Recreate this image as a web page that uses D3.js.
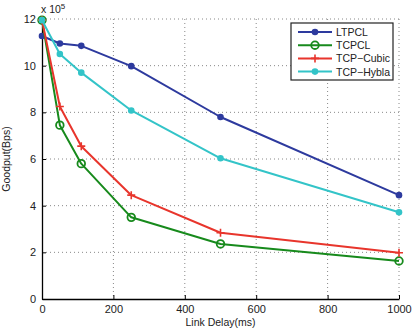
<!DOCTYPE html>
<html>
<head>
<meta charset="utf-8">
<script src="https://cdn.jsdelivr.net/npm/d3@7"></script>
<style>
  body { margin: 0; background: #fff; }
  text { font-family: "Liberation Sans", Arial, sans-serif; fill: #222; }
</style>
</head>
<body>
<div class="chart"></div>
<script>
var delays = [0, 50, 110, 250, 500, 1000];
var ltpcl = [11.27, 10.95, 10.85, 9.98, 7.8, 4.45];
var tcpcl = [11.95, 7.45, 5.8, 3.5, 2.36, 1.63];
var cubic = [11.95, 8.25, 6.55, 4.45, 2.84, 1.98];
var hybla = [11.95, 10.5, 9.7, 8.08, 6.03, 3.72];
var xTicks = [0, 200, 400, 600, 800, 1000];
var yTicks = [0, 2, 4, 6, 8, 10, 12];

var series = [
  { name: "LTPCL", values: ltpcl, color: "#2d3a9e", marker: "dot" },
  { name: "TCPCL", values: tcpcl, color: "#178a1c", marker: "ring" },
  { name: "TCP\u2212Cubic", values: cubic, color: "#e8352c", marker: "plus" },
  { name: "TCP\u2212Hybla", values: hybla, color: "#33c4c8", marker: "dot" }
];

var width = 417, height = 333;
var mLeft = 42, mRight = 399, mTop = 19, mBottom = 299;

var svg = d3.select(".chart").append("svg")
  .attr("width", width).attr("height", height);

var x = d3.scaleLinear().domain([0, 1000]).range([mLeft, mRight]);
var y = d3.scaleLinear().domain([0, 12]).range([mBottom, mTop]);

// dotted grid
svg.append("g").selectAll("line").data(xTicks.slice(1)).enter().append("line")
  .attr("x1", d => x(d)).attr("x2", d => x(d))
  .attr("y1", mTop).attr("y2", mBottom)
  .attr("stroke", "#888").attr("stroke-width", 1).attr("stroke-dasharray", "1,3");
svg.append("g").selectAll("line").data(yTicks.slice(1)).enter().append("line")
  .attr("x1", mLeft).attr("x2", mRight)
  .attr("y1", d => y(d)).attr("y2", d => y(d))
  .attr("stroke", "#888").attr("stroke-width", 1).attr("stroke-dasharray", "1,3");

var xAxis = svg.append("g")
  .attr("transform", `translate(0,${mBottom})`)
  .call(d3.axisBottom(x).tickValues(xTicks).tickFormat(d3.format("d")).tickSize(-4).tickSizeOuter(0).tickPadding(6));
var yAxis = svg.append("g")
  .attr("transform", `translate(${mLeft},0)`)
  .call(d3.axisLeft(y).tickValues(yTicks).tickSize(-4).tickSizeOuter(0).tickPadding(6));

[xAxis, yAxis].forEach(g => {
  g.select(".domain").attr("stroke", "#000").attr("stroke-width", 1.3);
  g.selectAll(".tick line").attr("stroke", "#000");
  g.selectAll("text").attr("font-size", 11).attr("fill", "#222")
    .attr("font-family", "Liberation Sans, Arial, sans-serif");
});

var line = d3.line()
  .x((d, i) => x(delays[i]))
  .y(d => y(d));

function drawMarker(g, s, cx, cy) {
  if (s.marker === "dot") {
    g.append("circle").attr("cx", cx).attr("cy", cy).attr("r", 3.3).attr("fill", s.color);
  } else if (s.marker === "ring") {
    g.append("circle").attr("cx", cx).attr("cy", cy).attr("r", 3.8)
      .attr("fill", "none").attr("stroke", s.color).attr("stroke-width", 1.8);
  } else {
    g.append("path").attr("d", `M${cx - 4},${cy}H${cx + 4}M${cx},${cy - 4}V${cy + 4}`)
      .attr("stroke", s.color).attr("stroke-width", 1.6);
  }
}

series.forEach(s => {
  var g = svg.append("g");
  g.append("path").datum(s.values)
    .attr("fill", "none").attr("stroke", s.color).attr("stroke-width", 2)
    .attr("stroke-linejoin", "round")
    .attr("d", line);
  s.values.forEach((v, i) => drawMarker(g, s, x(delays[i]), y(v)));
});

// multiplier
var mult = svg.append("text").attr("x", 41).attr("y", 13).attr("font-size", 10.5);
mult.append("tspan").text("x 10");
mult.append("tspan").attr("dy", -4).attr("font-size", 8).text("5");

// axis titles
svg.append("text").attr("x", (mLeft + mRight) / 2).attr("y", 326)
  .attr("text-anchor", "middle").attr("font-size", 10.5).text("Link Delay(ms)");
svg.append("text").attr("transform", `translate(10,${(mTop + mBottom) / 2}) rotate(-90)`)
  .attr("text-anchor", "middle").attr("font-size", 10.5).text("Goodput(Bps)");

// legend
var lg = svg.append("g");
lg.append("rect").attr("x", 291).attr("y", 23).attr("width", 102).attr("height", 57)
  .attr("fill", "#fff").attr("stroke", "#222").attr("stroke-width", 1.2);
series.forEach((s, i) => {
  var ly = 32 + i * 13.2;
  lg.append("line").attr("x1", 298).attr("x2", 332).attr("y1", ly).attr("y2", ly)
    .attr("stroke", s.color).attr("stroke-width", 2);
  drawMarker(lg, s, 315, ly);
  lg.append("text").attr("x", 336).attr("y", ly + 4).attr("font-size", 10.5).text(s.name);
});
</script>
</body>
</html>
